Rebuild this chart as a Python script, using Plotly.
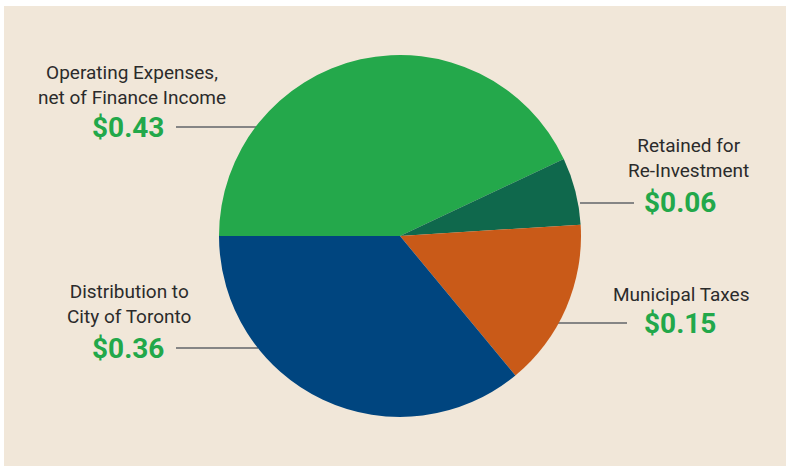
import plotly.graph_objects as go

categories = ["Operating Expenses,<br>net of Finance Income", "Retained for<br>Re-Investment",
              "Municipal Taxes", "Distribution to<br>City of Toronto"]
values = [0.43, 0.06, 0.15, 0.36]
value_labels = ["$0.43", "$0.06", "$0.15", "$0.36"]
colors = ["#24a84b", "#0f684c", "#c95a18", "#00457f"]

W, H = 786, 467
FONT = "Roboto, 'Liberation Sans', sans-serif"

def px(x):
    return x / W

def py(y):
    return 1 - y / H

fig = go.Figure(go.Pie(
    values=values, labels=categories, sort=False, direction="clockwise", rotation=270,
    marker=dict(colors=colors, line=dict(width=0)), textinfo="none", hoverinfo="label+value",
    showlegend=False,
    domain=dict(x=[px(219), px(581)], y=[py(417), py(55)]),
))

# label layout: (category label center x, category block center y, value center x, value y, line x0, line x1)
label_pos = [
    (132, 85, 128, 127, 176, 256),
    (688, 158, 680, 203, 580, 634),
    (681, 294, 680, 323, 520, 627),
    (129, 304, 128, 348, 176, 258),
]

annotations = []
shapes = [dict(type="rect", xref="paper", yref="paper", x0=px(4), x1=1, y0=py(466), y1=py(6),
               fillcolor="#f1e7d9", line=dict(width=0), layer="below")]
for cat, val, (cx, cy, vx, vy, l0, l1) in zip(categories, value_labels, label_pos):
    annotations.append(dict(text=cat, x=px(cx), y=py(cy), xref="paper", yref="paper",
                            showarrow=False, xanchor="center", yanchor="middle", align="center",
                            font=dict(family=FONT, size=19, color="#2b2b2b")))
    annotations.append(dict(text="<b>" + val + "</b>", x=px(vx), y=py(vy), xref="paper", yref="paper",
                            showarrow=False, xanchor="center", yanchor="middle",
                            font=dict(family=FONT, size=28, color="#22a84a")))
    shapes.append(dict(type="line", xref="paper", yref="paper", x0=px(l0), x1=px(l1), y0=py(vy), y1=py(vy),
                       line=dict(color="#858585", width=2), layer="below"))

fig.update_layout(width=W, height=H, margin=dict(l=0, r=0, t=0, b=0),
                  paper_bgcolor="white", plot_bgcolor="white",
                  annotations=annotations, shapes=shapes)
fig.write_html("out.html")
